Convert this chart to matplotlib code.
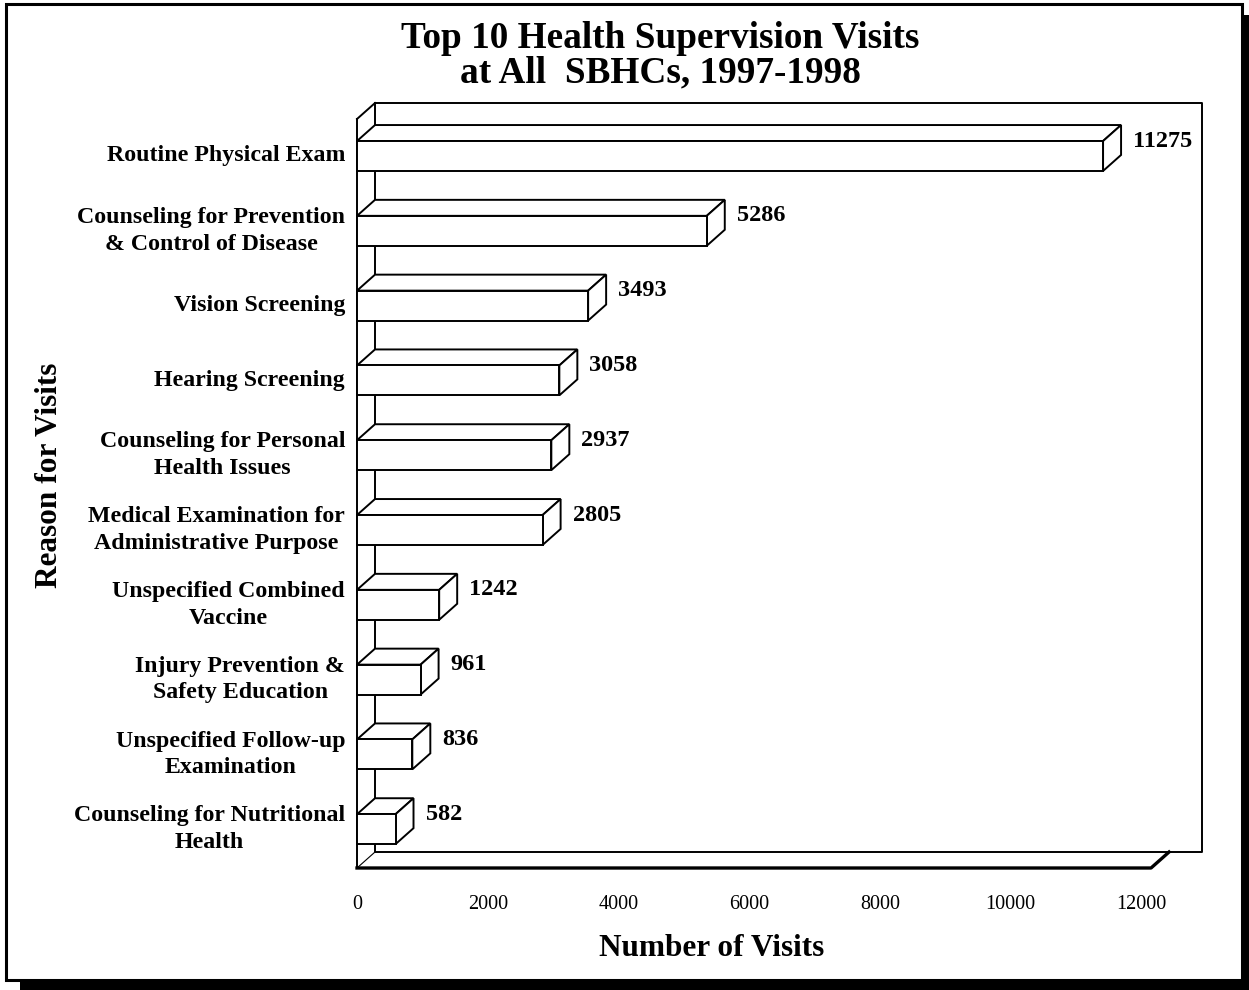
import matplotlib
matplotlib.use('Agg')
import matplotlib.pyplot as plt
from matplotlib.patches import Polygon, Rectangle

reasons = ['Routine Physical Exam',
           'Counseling for Prevention\n& Control of Disease',
           'Vision Screening',
           'Hearing Screening',
           'Counseling for Personal\nHealth Issues',
           'Medical Examination for\nAdministrative Purpose',
           'Unspecified Combined\nVaccine',
           'Injury Prevention &\nSafety Education',
           'Unspecified Follow-up\nExamination',
           'Counseling for Nutritional\nHealth']
visits = [11275, 5286, 3493, 3058, 2937, 2805, 1242, 961, 836, 582]
xticks = [0, 2000, 4000, 6000, 8000, 10000, 12000]

plt.rcParams['font.family'] = ['Liberation Serif', 'DejaVu Serif']

W, H = 1249, 990
X0, SX = 357, 0.06617   # pixel of 0 visits, pixels per visit
Y0, SY = 156, 74.8      # pixel of first row, pixels per row
DX = 18 / SX            # 3d depth in visit units
DY = 16 / SY            # 3d depth in row units
HB = 0.2                # half bar height
top_f = (119 - Y0) / SY
floor_f = (868 - Y0) / SY
wall_right = 12500
floor_right = 12000
lw = 1.4

fig = plt.figure(figsize=(W / 100, H / 100), dpi=100)

# page frame with drop shadow
fig.add_artist(Rectangle((20 / W, 0), 1 - 20 / W, 1 - 15 / H, transform=fig.transFigure,
                         facecolor='black', edgecolor='none', zorder=-2))
fig.add_artist(Rectangle((6 / W, 1 - 980 / H), 1236 / W, 976 / H, transform=fig.transFigure,
                         facecolor='white', edgecolor='black', linewidth=2.2, zorder=-1))

ax = fig.add_axes([0, 0, 1, 1])
ax.set_xlim(-X0 / SX, (W - X0) / SX)
ax.set_ylim((H - Y0) / SY, -Y0 / SY)
ax.axis('off')
ax.patch.set_visible(False)

# back wall
ax.plot([DX, wall_right + DX, wall_right + DX, DX, DX],
        [top_f - DY, top_f - DY, floor_f - DY, floor_f - DY, top_f - DY], color='black', lw=lw)
# side wall
ax.plot([0, 0], [top_f, floor_f], color='black', lw=lw)
ax.plot([0, DX], [top_f, top_f - DY], color='black', lw=lw)
ax.plot([0, DX], [floor_f, floor_f - DY], color='black', lw=0.8)
# floor
ax.plot([0, floor_right, floor_right + DX], [floor_f, floor_f, floor_f - DY], color='black', lw=2.4)

for i, (r, v) in enumerate(zip(reasons, visits)):
    t, b = i - HB, i + HB
    front = [(0, t), (v, t), (v, b), (0, b)]
    top = [(0, t), (v, t), (v + DX, t - DY), (DX, t - DY)]
    side = [(v, t), (v + DX, t - DY), (v + DX, b - DY), (v, b)]
    for pts in (top, side, front):
        ax.add_patch(Polygon(pts, closed=True, facecolor='white', edgecolor='black',
                             linewidth=lw, joinstyle='miter', zorder=3))
    ax.text(v + DX + 12 / SX, t, str(v), ha='left', va='center',
            fontsize=17.5, fontweight='bold')
    ax.text(-12 / SX, i, r, ha='right', va='center', multialignment='center',
            fontsize=17.2, fontweight='bold', linespacing=1.35)

for t in xticks:
    ax.text(t * 0.988, (905 - Y0) / SY, str(t), ha='center', va='center', fontsize=14.5)

fig.text(660 / W, 1 - 38 / H, 'Top 10 Health Supervision Visits', ha='center', va='center',
         fontsize=26.8, fontweight='bold')
fig.text(660 / W, 1 - 73 / H, 'at All  SBHCs, 1997-1998', ha='center', va='center',
         fontsize=26.8, fontweight='bold')
fig.text(712 / W, 1 - 948 / H, 'Number of Visits', ha='center', va='center',
         fontsize=22.5, fontweight='bold')
fig.text(50 / W, 1 - 475 / H, 'Reason for Visits', ha='center', va='center',
         rotation=90, fontsize=22.5, fontweight='bold')

fig.savefig('out.png', dpi=100)
